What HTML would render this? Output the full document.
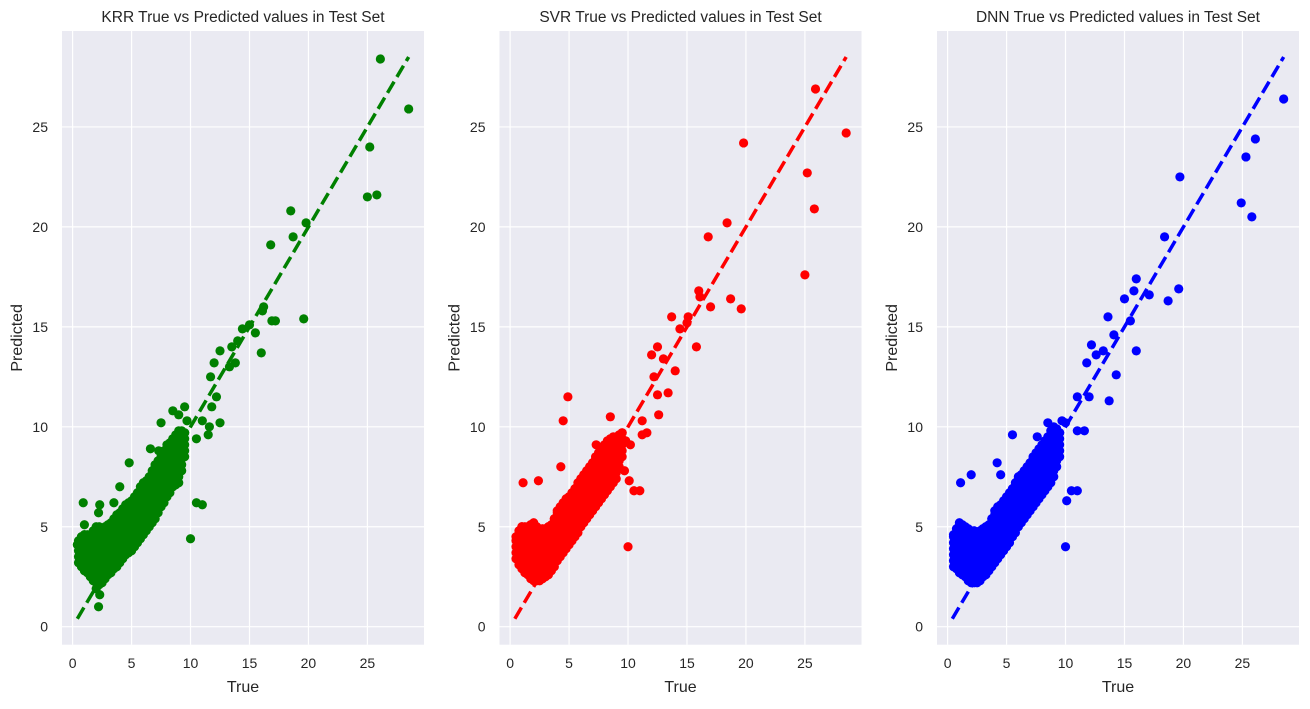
<!DOCTYPE html>
<html><head><meta charset="utf-8"><style>
body{margin:0;background:#fff;}
svg text{font-family:"Liberation Sans",sans-serif;fill:#262626;}
</style></head><body>
<svg id="chart" width="1310" height="704" xmlns="http://www.w3.org/2000/svg"></svg>
<script>
const xTicks=[0,5,10,15,20,25];
const yTicks=[0,5,10,15,20,25];
const titles=["KRR True vs Predicted values in Test Set","SVR True vs Predicted values in Test Set","DNN True vs Predicted values in Test Set"];
const colors=["#008000","#ff0000","#0000ff"];
// dense cluster columns: [true, lowest predicted, highest predicted]
const blobKRR=[[0.5,3.2,4.3],[0.75,3,4.5],[1,2.8,4.6],[1.25,2.7,4.6],[1.5,2.5,4.6],[1.75,2.3,4.8],[2,1.9,5],[2.25,2.1,5],[2.5,2.2,4.9],[2.75,2.4,5],[3,2.6,5.1],[3.25,2.7,5.2],[3.5,2.9,5.4],[3.75,3,5.6],[4,3.2,5.7],[4.25,3.4,5.9],[4.5,3.6,6.1],[4.75,3.7,6.2],[5,3.8,6.3],[5.25,4,6.5],[5.5,4.2,6.7],[5.75,4.4,7],[6,4.6,7.2],[6.25,4.8,7.3],[6.5,5,7.5],[6.75,5.2,7.8],[7,5.4,8.1],[7.25,5.7,8.3],[7.5,6,8.5],[7.75,6.2,8.8],[8,6.5,9.1],[8.25,6.7,9.2],[8.5,7,9.4],[8.75,7.1,9.6],[9,7.2,9.8],[9.25,7.8,9.8],[9.5,8.5,9.7]];
const outKRR=[[26.1,28.4],[28.5,25.9],[25.2,24.0],[25,21.5],[25.8,21.6],[19.8,20.2],[18.5,20.8],[18.7,19.5],[19.6,15.4],[16.8,19.1],[16.9,15.3],[17.2,15.3],[16.1,15.8],[16.2,16.0],[16,13.7],[15,15.1],[15.5,14.7],[14.4,14.9],[14,14.3],[13.5,14],[13.3,13],[13.8,13.2],[12.5,13.8],[12,13.2],[11.7,12.5],[12.2,11.5],[11.8,11],[11,10.3],[10.5,9.4],[11.5,9.6],[11.6,10],[12.5,10.2],[9.7,10.3],[9.5,11],[9,10.6],[10.5,6.2],[11,6.1],[10,4.4],[0.9,6.2],[2.3,6.1],[2.2,1.0],[2.3,1.6],[3.5,6.2],[4,7],[4.8,8.2],[7.3,8.8],[7.5,10.2],[6.6,8.9],[8.5,10.8],[1,5.1],[2.2,5.7],[0.4,4.1]];
const blobSVR=[[0.5,3.4,4.5],[0.75,3.1,4.8],[1,2.9,5],[1.25,2.7,5],[1.5,2.6,5],[1.75,2.4,5.1],[2,2.3,5.2],[2.25,2.3,5],[2.5,2.3,4.9],[2.75,2.4,4.9],[3,2.5,4.9],[3.25,2.6,5],[3.5,2.8,5.1],[3.75,3,5.4],[4,3.3,5.8],[4.25,3.5,6],[4.5,3.7,6.2],[4.75,3.9,6.4],[5,4.1,6.5],[5.25,4.3,6.7],[5.5,4.5,6.9],[5.75,4.7,7.2],[6,5,7.4],[6.25,5.2,7.6],[6.5,5.4,7.8],[6.75,5.6,8],[7,5.8,8.2],[7.25,6,8.5],[7.5,6.2,8.7],[7.75,6.4,8.9],[8,6.6,9.1],[8.25,6.8,9.3],[8.5,7,9.4],[8.75,7.2,9.5],[9,7.4,9.5],[9.25,8,9.6],[9.5,8.5,9.7]];
const outSVR=[[25.9,26.9],[28.5,24.7],[19.8,24.2],[25.2,22.7],[25.8,20.9],[25,17.6],[18.4,20.2],[16.8,19.5],[18.7,16.4],[19.6,15.9],[17,16],[16,16.8],[15.8,14],[15.1,15.5],[14.4,14.9],[13.7,15.5],[13,13.4],[12,13.6],[12.5,14],[12.2,12.5],[14,12.8],[13.4,11.7],[12.5,11.6],[11.6,9.7],[11.2,9.6],[11,6.8],[10.5,6.8],[10,4],[10.1,7.3],[9.7,7.8],[10.2,9.1],[9.8,9.3],[11.2,10.3],[4.9,11.5],[4.5,10.3],[1.1,7.2],[2.4,7.3],[4.3,8],[8.5,10.5],[12.6,10.6],[7.3,9.1],[15,15.2],[16.1,16.5]];
const blobDNN=[[0.5,3,4.6],[0.75,2.9,4.9],[1,2.7,5.2],[1.25,2.6,5.1],[1.5,2.5,5],[1.75,2.3,4.9],[2,2.2,4.8],[2.25,2.2,4.8],[2.5,2.2,4.7],[2.75,2.3,4.8],[3,2.5,4.9],[3.25,2.6,5],[3.5,2.8,5.1],[3.75,3,5.4],[4,3.2,5.8],[4.25,3.4,6],[4.5,3.6,6.1],[4.75,3.8,6.3],[5,4,6.5],[5.25,4.2,6.7],[5.5,4.5,6.9],[5.75,4.7,7.2],[6,5,7.5],[6.25,5.2,7.6],[6.5,5.4,7.8],[6.75,5.6,8],[7,5.8,8.2],[7.25,6,8.5],[7.5,6.2,8.7],[7.75,6.4,8.9],[8,6.6,9.1],[8.25,6.8,9.3],[8.5,7,9.5],[8.75,7.2,9.8],[9,7.5,10],[9.25,8,9.9],[9.5,8.5,9.7]];
const outDNN=[[28.5,26.4],[26.1,24.4],[25.3,23.5],[24.9,21.2],[25.8,20.5],[19.7,22.5],[18.4,19.5],[18.7,16.3],[19.6,16.9],[16,17.4],[17.1,16.6],[16,13.8],[15,16.4],[15.5,15.3],[14.1,14.6],[13.6,15.5],[14.3,12.6],[13.7,11.3],[12.6,13.6],[12.2,14.1],[11.8,13.2],[12,11.5],[11,11.5],[11.6,9.8],[11,9.8],[10,10.2],[9.7,10.3],[11,6.8],[10.5,6.8],[10.1,6.3],[10,4],[5.5,9.6],[1.1,7.2],[2,7.6],[4.2,8.2],[4.5,7.6],[8.5,10.2],[7.6,9.5],[15.8,16.8],[13.2,13.8]];
const lineEnds=[0.4,28.5];
const blobs=[blobKRR,blobSVR,blobDNN];
const outs=[outKRR,outSVR,outDNN];

const NS="http://www.w3.org/2000/svg";
const svg=document.getElementById("chart");
function mk(tag,attrs,parent){const e=document.createElementNS(NS,tag);for(const k in attrs)e.setAttribute(k,attrs[k]);(parent||svg).appendChild(e);return e;}
const lefts=[62,499.5,937],W=362,top0=31,bot=644.7;
const dMin=-0.9,dMax=29.8;
const names=["krr","svr","dnn"];
for(let p=0;p<3;p++){
  const L=lefts[p];
  const xs=v=>L+(v-dMin)/(dMax-dMin)*W;
  const ys=v=>bot-(v-dMin)/(dMax-dMin)*(bot-top0);
  const g=mk("g",{});
  
  
  const bg=mk("rect",{x:L,y:top0,width:W,height:bot-top0,fill:"#eaeaf2"},g);
  
  
  xTicks.forEach(t=>{
    const gl=mk("line",{x1:xs(t),x2:xs(t),y1:top0,y2:bot,stroke:"#fff","stroke-width":1.2},g);
    
    
    const tl=mk("text",{x:xs(t),y:668,"text-anchor":"middle","font-size":"14"},g);
    
    
    tl.textContent=t;
  });
  yTicks.forEach(t=>{
    const gl=mk("line",{x1:L,x2:L+W,y1:ys(t),y2:ys(t),stroke:"#fff","stroke-width":1.2},g);
    
    
    const tl=mk("text",{x:L-14,y:ys(t)+5,"text-anchor":"end","font-size":"14"},g);
    
    
    tl.textContent=t;
  });
  const pts=[];
  blobs[p].forEach(c=>{for(let y=c[1];y<=c[2]+1e-6;y+=0.3)pts.push([c[0],y]);pts.push([c[0],c[2]]);});
  outs[p].forEach(o=>pts.push(o));
  pts.forEach(d=>{
    const c=mk("circle",{cx:xs(d[0]),cy:ys(d[1]),r:4.6,fill:colors[p]},g);
    
    
  });
  const ln=mk("line",{x1:xs(lineEnds[0]),y1:ys(lineEnds[0]),x2:xs(lineEnds[1]),y2:ys(lineEnds[1]),stroke:colors[p],"stroke-width":3.5,"stroke-dasharray":"13,5.5"},g);
  
  
  const ti=mk("text",{x:L+W/2,y:22,"text-anchor":"middle","font-size":"15.5"},g);
  
  
  ti.textContent=titles[p];
  const xl=mk("text",{x:L+W/2,y:692,"text-anchor":"middle","font-size":"16"},g);
  
  
  xl.textContent="True";
  const yl=mk("text",{x:0,y:0,"text-anchor":"middle","font-size":"16",transform:`translate(${L-40},${(top0+bot)/2}) rotate(-90)`},g);
  
  
  yl.textContent="Predicted";
}
</script>
</body></html>
